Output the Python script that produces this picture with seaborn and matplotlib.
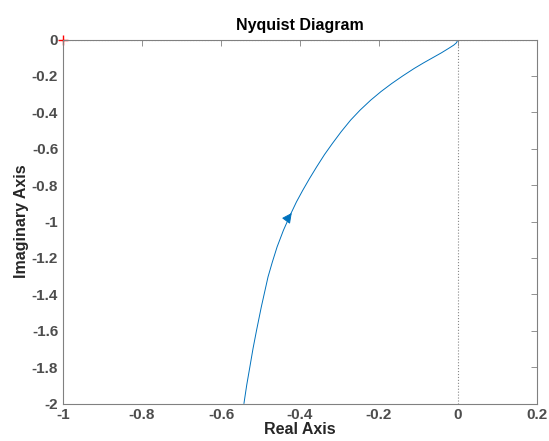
import numpy as np
import pandas as pd
import seaborn as sns
import matplotlib
matplotlib.use("Agg")
import matplotlib.pyplot as plt

# Nyquist curve points (positive frequencies)
real_vals = [-0.542, -0.535, -0.527, -0.519, -0.510, -0.498, -0.481, -0.470,
             -0.458, -0.442, -0.425, -0.409, -0.393, -0.376, -0.358, -0.338,
             -0.318, -0.296, -0.272, -0.248, -0.221, -0.195, -0.168, -0.140,
             -0.111, -0.087, -0.060, -0.042, -0.024, -0.011, -0.004, 0.0]
imag_vals = [-2.000, -1.899, -1.799, -1.698, -1.597, -1.469, -1.304, -1.222,
             -1.139, -1.048, -0.965, -0.892, -0.828, -0.764, -0.700, -0.632,
             -0.571, -0.507, -0.443, -0.388, -0.333, -0.286, -0.242, -0.200,
             -0.159, -0.128, -0.095, -0.073, -0.049, -0.031, -0.018, 0.0]
x_ticks = [-1, -0.8, -0.6, -0.4, -0.2, 0, 0.2]
y_ticks = [0, -0.2, -0.4, -0.6, -0.8, -1, -1.2, -1.4, -1.6, -1.8, -2]

df = pd.DataFrame({"re": real_vals, "im": imag_vals})

sns.set_style("white")
plt.rcParams["font.family"] = ["Liberation Sans", "DejaVu Sans"]

fig = plt.figure(figsize=(5.49, 4.41), dpi=100)
ax = fig.add_axes([0.1148, 0.085, 0.8634, 0.8254])

# reference lines through origin
ax.axhline(0, color="#888888", lw=0.8, ls=":")
ax.axvline(0, color="#888888", lw=0.8, ls=":")

sns.lineplot(data=df, x="re", y="im", sort=False, color="#0072BD", lw=0.7, ax=ax)

# direction arrow
i = 10
ax.annotate("", xy=(real_vals[i] + 0.004, imag_vals[i] + 0.012),
            xytext=(real_vals[i], imag_vals[i]),
            arrowprops=dict(arrowstyle="-|>,head_length=0.6,head_width=0.3",
                            color="#0072BD", lw=0.7))

# critical point
ax.plot(-1, 0, marker="+", color="red", ms=7, mew=1, clip_on=False)

ax.set_xlim(-1, 0.2)
ax.set_ylim(-2, 0)
ax.set_xticks(x_ticks)
ax.set_xticklabels([f"{t:g}" for t in x_ticks])
ax.set_yticks(y_ticks)
ax.set_yticklabels([f"{t:g}" for t in y_ticks])

for s in ax.spines.values():
    s.set_color("#808080")
    s.set_linewidth(0.8)
ax.tick_params(direction="in", length=4, width=0.6, color="#808080",
               top=True, right=True, labelsize=11, labelcolor="#4d4d4d")
for lab in ax.get_xticklabels() + ax.get_yticklabels():
    lab.set_fontweight("bold")

ax.set_title("Nyquist Diagram", fontsize=11.5, weight="bold", color="black", pad=7)
ax.set_xlabel("Real Axis", fontsize=11.5, weight="bold", color="#262626", labelpad=0)
ax.set_ylabel("Imaginary Axis", fontsize=11.5, weight="bold", color="#262626", labelpad=2)

fig.savefig("out.png", dpi=100)
